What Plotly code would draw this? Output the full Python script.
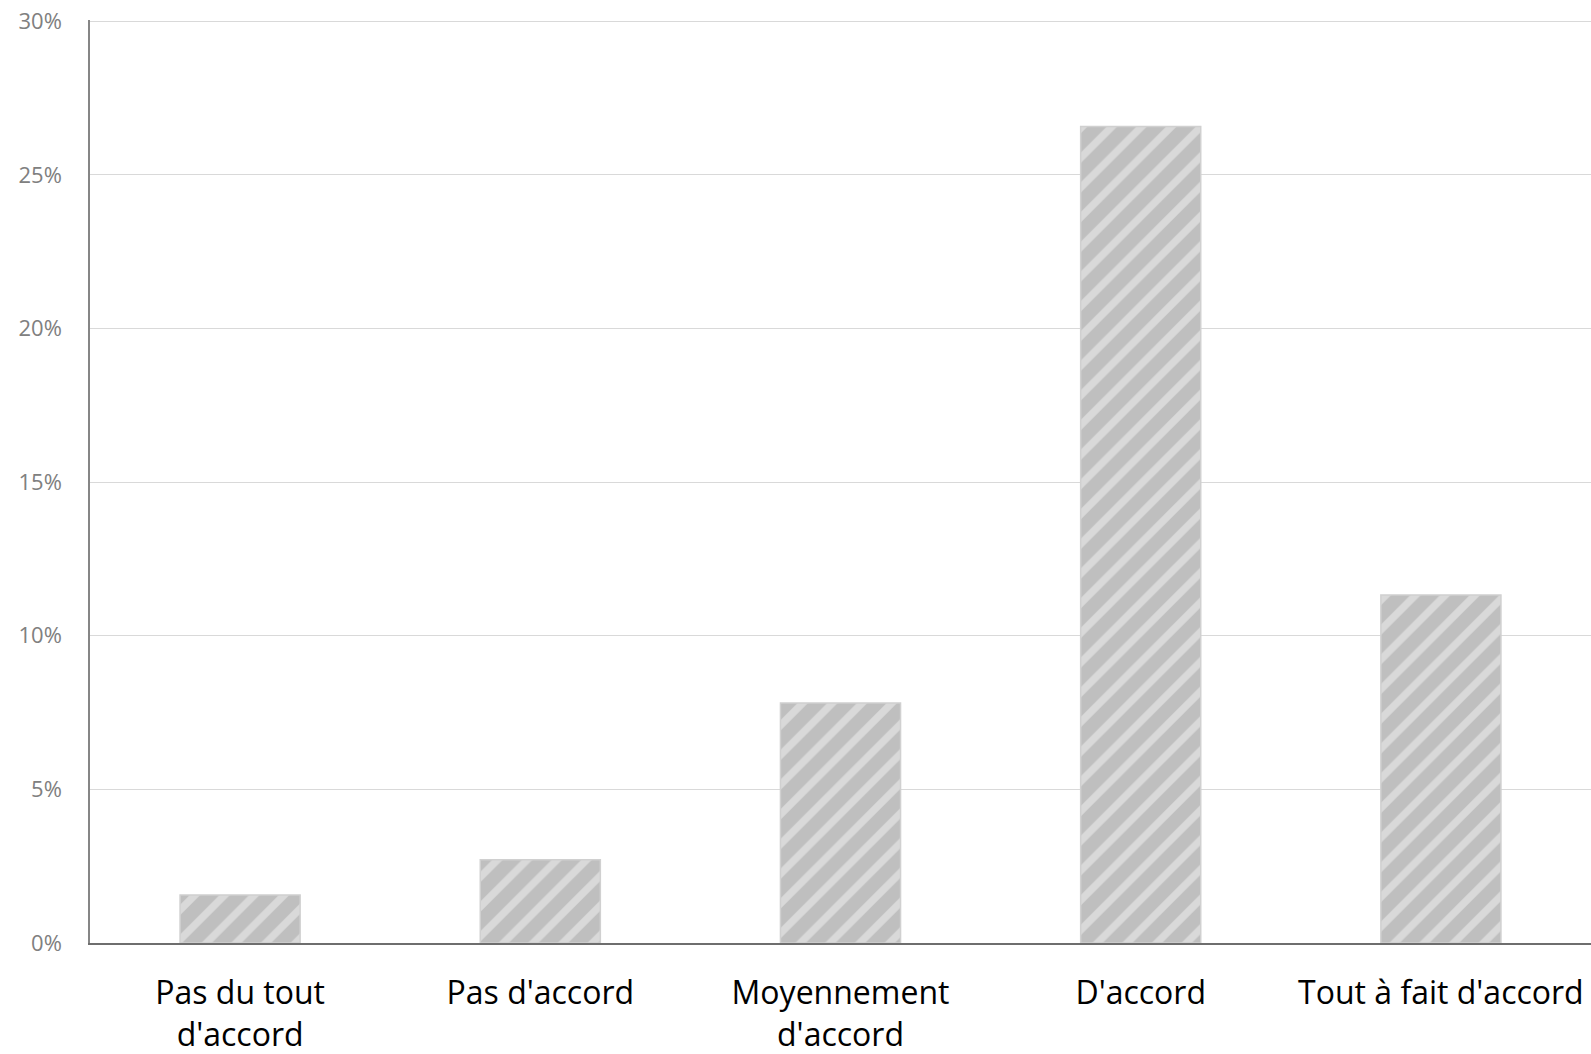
import plotly.graph_objects as go

categories = ["Pas du tout<br>d'accord", "Pas d'accord", "Moyennement<br>d'accord", "D'accord", "Tout à fait d'accord"]
values = [0.0156, 0.0271, 0.0781, 0.2657, 0.1133]
y_ticks = [0, 0.05, 0.10, 0.15, 0.20, 0.25, 0.30]
y_tick_labels = ["0%", "5%", "10%", "15%", "20%", "25%", "30%"]

fig = go.Figure(go.Bar(
    x=categories,
    y=values,
    marker=dict(
        color="#bfbfbf",
        line=dict(color="#d0d0d0", width=1.5),
        pattern=dict(shape="/", fgcolor="#f4f4f4", bgcolor="#bfbfbf", size=21, solidity=0.35, fillmode="overlay"),
    ),
))

fig.update_layout(
    width=1591, height=1054,
    margin=dict(l=90, r=0, t=20, b=111),
    paper_bgcolor="white", plot_bgcolor="white",
    bargap=0.6,
    showlegend=False,
    font=dict(family="Open Sans", color="black"),
)
fig.update_yaxes(
    range=[0, 0.3004], tickvals=y_ticks, ticktext=y_tick_labels,
    showgrid=True, gridcolor="#d9d9d9", gridwidth=1,
    showline=True, linecolor="#868686", linewidth=1.5,
    tickfont=dict(size=22, color="#808080"), ticks="outside", ticklen=22, tickcolor="rgba(0,0,0,0)",
    zeroline=False, automargin=False,
)
fig.update_xaxes(
    showline=True, linecolor="#6e6e6e", linewidth=2,
    tickfont=dict(size=32, color="black"), ticks="outside", ticklen=21, tickcolor="rgba(0,0,0,0)",
    automargin=False,
)
fig.write_html(
    "out.html",
    config={"displayModeBar": False},
    post_script="document.body.style.margin='0';document.body.style.overflow='hidden';",
)
